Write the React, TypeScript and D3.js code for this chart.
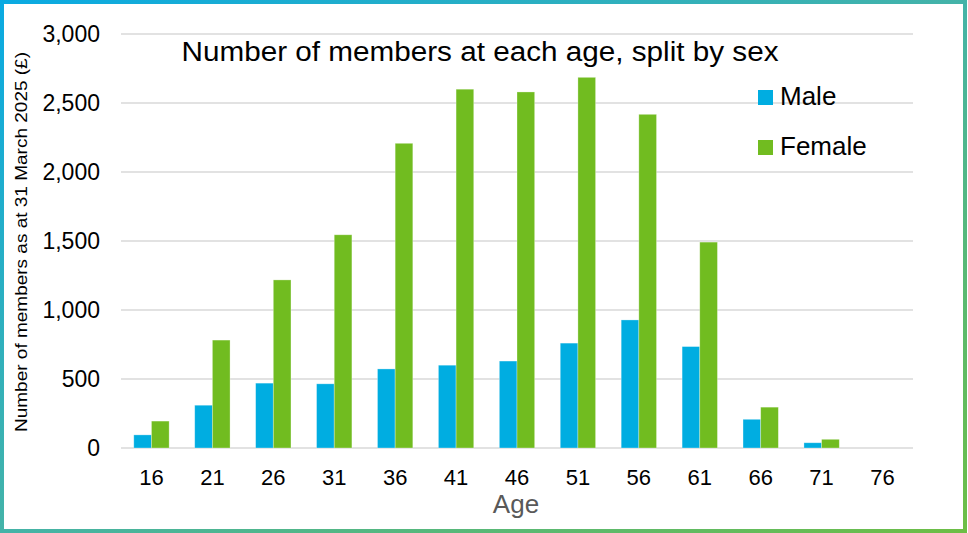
import { useEffect, useRef } from "react";
import * as d3 from "d3";

const ages = ["16", "21", "26", "31", "36", "41", "46", "51", "56", "61", "66", "71", "76"];
const male = [95, 310, 470, 465, 573, 600, 630, 760, 928, 735, 208, 38, 0];
const female = [195, 782, 1218, 1545, 2208, 2600, 2580, 2686, 2418, 1492, 296, 63, 0];
const yTicks = [0, 500, 1000, 1500, 2000, 2500, 3000];
const seriesNames = ["Male", "Female"];
const seriesColors = ["#00ADE1", "#71BC20"];

const width = 968;
const height = 533;
const margin = { top: 34, right: 55, bottom: 85, left: 121 };
const font = "'Liberation Sans', Arial, sans-serif";

const App = () => {
  const axisRef = useRef<SVGGElement>(null);
  const bottom = height - margin.bottom;

  const xScale = d3
    .scaleBand()
    .domain(ages)
    .range([margin.left, width - margin.right])
    .paddingInner(0.42)
    .paddingOuter(0.21);

  const inner = d3.scaleBand().domain(seriesNames).range([0, xScale.bandwidth()]);

  const yScale = d3.scaleLinear().domain([0, 3000]).range([bottom, margin.top]);

  useEffect(() => {
    const g = d3.select(axisRef.current);
    g.selectAll("*").remove();
    g.call(d3.axisLeft(yScale).tickValues(yTicks).tickSize(0).tickPadding(21).tickFormat(d3.format(",")))
      .call((s) => s.select(".domain").remove());
    g.selectAll("text").attr("font-size", 23).attr("font-family", font).attr("fill", "#000");
  }, []);

  const series = [male, female];

  return (
    <div style={{ position: "absolute", left: 0, top: 0 }}>
      <svg width={width} height={height} viewBox={`0 0 ${width} ${height}`}>
        <defs>
          <linearGradient id="frame" x1="0" y1="0" x2="1" y2="1">
            <stop offset="0" stopColor="#0AAAE2" />
            <stop offset="0.5" stopColor="#44B3A8" />
            <stop offset="1" stopColor="#6DBE45" />
          </linearGradient>
        </defs>
        <rect x={0} y={0} width={width} height={height} fill="#fff" />
        <rect x={2} y={2} width={width - 5} height={height - 4} fill="none" stroke="url(#frame)" strokeWidth={4} />

        <g className="grid">
          {yTicks.map((t) => (
            <line
              key={t}
              x1={margin.left}
              x2={width - margin.right}
              y1={yScale(t)}
              y2={yScale(t)}
              stroke="#D9D9D9"
              strokeWidth={1.5}
            />
          ))}
        </g>

        <g className="bars">
          {ages.map((a, i) => (
            <g key={a} transform={`translate(${xScale(a)},0)`}>
              {series.map((vals, j) =>
                vals[i] > 0 ? (
                  <rect
                    key={j}
                    x={inner(seriesNames[j])}
                    y={yScale(vals[i])}
                    width={inner.bandwidth()}
                    height={bottom - yScale(vals[i])}
                    fill={seriesColors[j]}
                    stroke="#ffffff"
                    strokeOpacity={0.4}
                    strokeWidth={0.75}
                  />
                ) : null
              )}
            </g>
          ))}
        </g>

        <g className="x-axis" fontFamily={font} fontSize={22}>
          {ages.map((a) => (
            <text key={a} x={xScale(a)! + xScale.bandwidth() / 2} y={bottom + 37} textAnchor="middle">
              {a}
            </text>
          ))}
        </g>
        <g ref={axisRef} className="y-axis" transform={`translate(${margin.left},0)`} />

        <text
          x={480}
          y={61}
          textAnchor="middle"
          fontFamily={font}
          fontSize={27}
          textLength={597}
          lengthAdjust="spacingAndGlyphs"
        >
          Number of members at each age, split by sex
        </text>
        <text x={516} y={513} textAnchor="middle" fontFamily={font} fontSize={26} fill="#595959">
          Age
        </text>
        <text
          transform={`translate(27,${242}) rotate(-90)`}
          textAnchor="middle"
          fontFamily={font}
          fontSize={16}
          textLength={380}
          lengthAdjust="spacingAndGlyphs"
        >
          Number of members as at 31 March 2025 (£)
        </text>

        <g className="legend" fontFamily={font} fontSize={26}>
          {seriesNames.map((n, i) => (
            <g key={n} transform={`translate(758,${90 + i * 50})`}>
              <rect width={15} height={15} fill={seriesColors[i]} />
              <text x={22} y={15}>
                {n}
              </text>
            </g>
          ))}
        </g>
      </svg>
    </div>
  );
};

export default App;
